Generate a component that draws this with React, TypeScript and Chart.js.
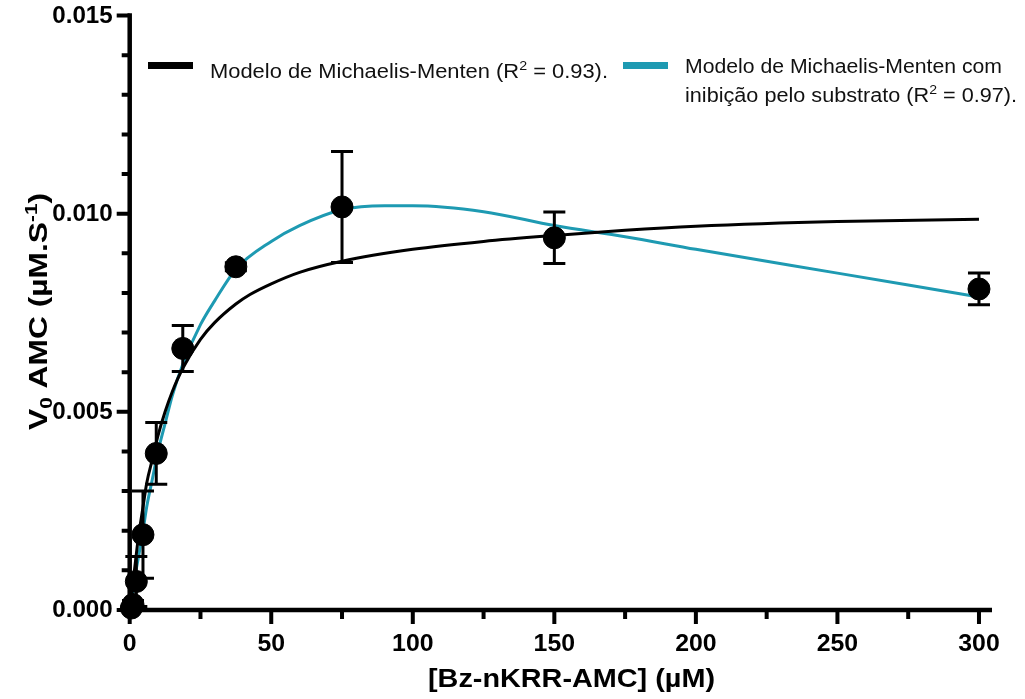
import React, { useEffect, useRef } from 'react';
import { Chart, registerables } from 'chart.js';

Chart.register(...registerables);

// ---- measured data (substrate concentration in µM, initial velocity in µM/s) ----
const concentrations = [0.59, 1.17, 2.34, 4.69, 9.38, 18.75, 37.5, 75, 150, 300];
const velocities = [0.00005, 0.00014, 0.00072, 0.0019, 0.00395, 0.0066, 0.00866, 0.01017, 0.00939, 0.0081];
const velocityErrors = [0.00003, 0.0001, 0.00063, 0.0011, 0.00078, 0.00058, 0.0001, 0.0014, 0.00065, 0.0004];

// ---- Michaelis-Menten fit curve ----
const mmX = [0, 1, 2, 3, 4.7, 6, 8, 10, 12.5, 15, 18.75, 25, 30, 37.5, 42.5, 50, 60, 75, 100, 125, 150, 175, 200, 250, 300];
const mmY = [0, 0.0006, 0.0012, 0.0018, 0.0026, 0.0032, 0.0038, 0.0044, 0.005, 0.0055, 0.0061, 0.00683, 0.00725, 0.00772, 0.00796, 0.00823, 0.00852, 0.0088, 0.0091, 0.0093, 0.00945, 0.00958, 0.00968, 0.0098, 0.00986];

// ---- substrate-inhibition fit curve ----
const siX = [0, 1, 2, 3, 4.7, 6, 8, 10, 12.5, 15, 18.75, 25, 30, 37.5, 50, 60, 75, 90, 100, 125, 150, 175, 200, 250, 300];
const siY = [0, 0.0004, 0.0009, 0.0013, 0.002, 0.0026, 0.0033, 0.004, 0.0047, 0.0054, 0.0062, 0.0072, 0.0078, 0.0086, 0.0093, 0.0097, 0.0101, 0.0102, 0.0102, 0.01005, 0.0097, 0.00942, 0.0091, 0.0085, 0.0079];

// ---- axis ticks ----
const xMajorTicks = [0, 50, 100, 150, 200, 250, 300];
const xMinorTicks = [25, 75, 125, 175, 225, 275];
const yMajorTicks = [0, 0.005, 0.01, 0.015];
const yMinorTicks = [0.001, 0.002, 0.003, 0.004, 0.006, 0.007, 0.008, 0.009, 0.011, 0.012, 0.013, 0.014];

// ---- texts ----
const xTitle = '[Bz-nKRR-AMC] (µM)';
const legendMM = ['Modelo de Michaelis-Menten (R', '2', ' = 0.93).'];
const legendSI1 = 'Modelo de Michaelis-Menten com';
const legendSI2 = ['inibição pelo substrato (R', '2', ' = 0.97).'];

const TEAL = 'rgb(30,154,178)';
const FONT = "'Liberation Sans', Arial, Helvetica, sans-serif";

type Seg = { text: string; mode?: 'sup' | 'sub' };

function segFont(size: number, weight: string, mode?: string) {
  const s = mode ? size * 0.65 : size;
  return `${weight} ${s}px ${FONT}`;
}

function richWidth(ctx: CanvasRenderingContext2D, segs: Seg[], size: number, weight: string) {
  let w = 0;
  for (const s of segs) {
    ctx.font = segFont(size, weight, s.mode);
    w += ctx.measureText(s.text).width;
  }
  return w;
}

function drawRich(ctx: CanvasRenderingContext2D, segs: Seg[], x: number, y: number, size: number, weight: string, targetWidth: number, color: string) {
  const natural = richWidth(ctx, segs, size, weight);
  const sx = targetWidth / natural;
  ctx.save();
  ctx.translate(x, y);
  ctx.scale(sx, 1);
  ctx.fillStyle = color;
  ctx.textAlign = 'left';
  ctx.textBaseline = 'alphabetic';
  let cx = 0;
  for (const s of segs) {
    ctx.font = segFont(size, weight, s.mode);
    const dy = s.mode === 'sup' ? -size * 0.42 : s.mode === 'sub' ? size * 0.2 : 0;
    ctx.fillText(s.text, cx, dy);
    cx += ctx.measureText(s.text).width;
  }
  ctx.restore();
}

function drawStretched(ctx: CanvasRenderingContext2D, text: string, x: number, y: number, font: string, sx: number, align: 'left' | 'center' | 'right') {
  ctx.save();
  ctx.font = font;
  ctx.textBaseline = 'middle';
  ctx.textAlign = 'left';
  ctx.fillStyle = '#000';
  const w = ctx.measureText(text).width * sx;
  let x0 = x;
  if (align === 'center') x0 = x - w / 2;
  else if (align === 'right') x0 = x - w;
  ctx.translate(x0, y);
  ctx.scale(sx, 1);
  ctx.fillText(text, 0, 0);
  ctx.restore();
}

const errorBarPlugin = {
  id: 'errorBars',
  beforeDatasetDraw(chart: any, args: any) {
    if (args.index !== 0) return;
    const ctx: CanvasRenderingContext2D = chart.ctx;
    const xs = chart.scales.x;
    const ys = chart.scales.y;
    ctx.save();
    ctx.strokeStyle = '#000';
    ctx.lineWidth = 3;
    ctx.lineCap = 'butt';
    concentrations.forEach((c, i) => {
      const px = xs.getPixelForValue(c);
      const top = ys.getPixelForValue(velocities[i] + velocityErrors[i]);
      const bot = ys.getPixelForValue(velocities[i] - velocityErrors[i]);
      ctx.beginPath();
      ctx.moveTo(px, top);
      ctx.lineTo(px, bot);
      ctx.moveTo(px - 11, top);
      ctx.lineTo(px + 11, top);
      ctx.moveTo(px - 11, bot);
      ctx.lineTo(px + 11, bot);
      ctx.stroke();
    });
    ctx.restore();
  },
};

const axesPlugin = {
  id: 'customAxes',
  afterDraw(chart: any) {
    const ctx: CanvasRenderingContext2D = chart.ctx;
    const xs = chart.scales.x;
    const ys = chart.scales.y;
    const x0 = xs.getPixelForValue(0);
    const y0 = ys.getPixelForValue(0);
    const yTop = ys.getPixelForValue(0.015);
    const axisW = 4.5;
    ctx.save();
    ctx.strokeStyle = '#000';
    ctx.fillStyle = '#000';
    ctx.lineCap = 'butt';
    ctx.lineWidth = axisW;
    ctx.beginPath();
    ctx.moveTo(x0, yTop - 2.2);
    ctx.lineTo(x0, y0 + 2.2);
    ctx.moveTo(x0 - 2.2, y0);
    ctx.lineTo(xs.right, y0);
    ctx.stroke();

    ctx.lineWidth = 4;
    ctx.beginPath();
    for (const v of yMajorTicks) {
      const p = ys.getPixelForValue(v);
      ctx.moveTo(x0, p);
      ctx.lineTo(x0 - 13, p);
    }
    for (const v of yMinorTicks) {
      const p = ys.getPixelForValue(v);
      ctx.moveTo(x0, p);
      ctx.lineTo(x0 - 8, p);
    }
    for (const v of xMajorTicks) {
      const p = xs.getPixelForValue(v);
      ctx.moveTo(p, y0);
      ctx.lineTo(p, y0 + 14);
    }
    for (const v of xMinorTicks) {
      const p = xs.getPixelForValue(v);
      ctx.moveTo(p, y0);
      ctx.lineTo(p, y0 + 9);
    }
    ctx.stroke();

    const tickFont = `bold 23px ${FONT}`;
    for (const v of xMajorTicks) {
      drawStretched(ctx, String(v), xs.getPixelForValue(v), y0 + 35, tickFont, 1.08, 'center');
    }
    for (const v of yMajorTicks) {
      drawStretched(ctx, v.toFixed(3), x0 - 17, ys.getPixelForValue(v) + 1, tickFont, 1.05, 'right');
    }

    // x title
    drawRich(ctx, [{ text: xTitle }], 428, 687, 25, 'bold', 287, '#000');

    // y title (rotated)
    ctx.save();
    ctx.translate(47, 430);
    ctx.rotate(-Math.PI / 2);
    drawRich(
      ctx,
      [
        { text: 'V' },
        { text: '0', mode: 'sub' },
        { text: ' AMC (µM.S' },
        { text: '-1', mode: 'sup' },
        { text: ')' },
      ],
      0,
      0,
      25,
      'bold',
      237,
      '#000'
    );
    ctx.restore();

    // legend
    ctx.fillStyle = '#000';
    ctx.fillRect(148, 62, 45, 7);
    ctx.fillStyle = TEAL;
    ctx.fillRect(623, 62, 45, 7);
    drawRich(
      ctx,
      [{ text: legendMM[0] }, { text: legendMM[1], mode: 'sup' }, { text: legendMM[2] }],
      210,
      78,
      20,
      'normal',
      398,
      '#111'
    );
    drawRich(ctx, [{ text: legendSI1 }], 685, 73, 20, 'normal', 317, '#111');
    drawRich(
      ctx,
      [{ text: legendSI2[0] }, { text: legendSI2[1], mode: 'sup' }, { text: legendSI2[2] }],
      685,
      102,
      20,
      'normal',
      332,
      '#111'
    );
    ctx.restore();
  },
};

export default function App() {
  const canvasRef = useRef<HTMLCanvasElement>(null);

  useEffect(() => {
    const canvas = canvasRef.current;
    if (!canvas) return;
    const chart = new Chart(canvas, {
      type: 'scatter',
      data: {
        datasets: [
          {
            label: 'Dados',
            data: concentrations.map((c, i) => ({ x: c, y: velocities[i] })),
            backgroundColor: '#000',
            borderColor: '#000',
            pointRadius: 11,
            pointHoverRadius: 11,
            showLine: false,
            clip: false as any,
          },
          {
            type: 'line' as any,
            label: 'Michaelis-Menten',
            data: mmX.map((x, i) => ({ x, y: mmY[i] })),
            borderColor: '#000',
            borderWidth: 3,
            pointRadius: 0,
            cubicInterpolationMode: 'monotone',
            fill: false,
            clip: false as any,
          },
          {
            type: 'line' as any,
            label: 'Inibição pelo substrato',
            data: siX.map((x, i) => ({ x, y: siY[i] })),
            borderColor: TEAL,
            borderWidth: 3,
            pointRadius: 0,
            cubicInterpolationMode: 'monotone',
            fill: false,
            clip: false as any,
          },
        ],
      } as any,
      options: {
        animation: false,
        responsive: false,
        maintainAspectRatio: false,
        devicePixelRatio: 1,
        layout: { padding: { left: 129.7, right: 33, top: 15.5, bottom: 89 } },
        plugins: {
          legend: { display: false },
          tooltip: { enabled: false },
        },
        scales: {
          x: { type: 'linear', min: 0, max: 304.6, display: false },
          y: { type: 'linear', min: 0, max: 0.015, display: false },
        },
      },
      plugins: [errorBarPlugin, axesPlugin],
    });
    return () => chart.destroy();
  }, []);

  return (
    <div style={{ position: 'absolute', left: 0, top: 0, width: 1025, height: 699, background: '#fff' }}>
      <canvas ref={canvasRef} width={1025} height={699} style={{ display: 'block', width: 1025, height: 699 }} />
    </div>
  );
}
